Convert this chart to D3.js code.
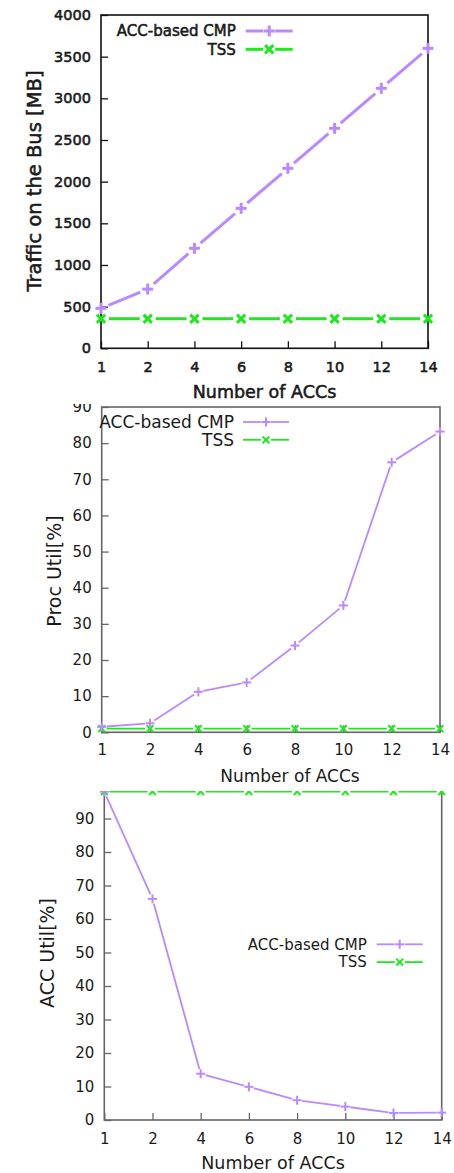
<!DOCTYPE html>
<html>
<head>
<meta charset="utf-8">
<script src="https://cdn.jsdelivr.net/npm/d3@7"></script>
<style>
  body { margin: 0; background: #fff; }
  svg { display: block; font-family: "DejaVu Sans", sans-serif; }
</style>
</head>
<body>
<div id="visual"></div>
<script>
// x categories (number of accelerators)
const accCounts = ["1", "2", "4", "6", "8", "10", "12", "14"];

// traffic on the bus [MB]
const trafficAccCmp = [480, 710, 1200, 1680, 2160, 2640, 3120, 3600];
const trafficTss = [355, 355, 355, 355, 355, 355, 355, 355];
const trafficTicks = [0, 500, 1000, 1500, 2000, 2500, 3000, 3500, 4000];

// processor utilisation [%]
const procAccCmp = [1.5, 2.5, 11.2, 13.8, 24, 35.1, 74.7, 83.2];
const procTss = [1, 1, 1, 1, 1, 1, 1, 1];
const procTicks = [0, 10, 20, 30, 40, 50, 60, 70, 80, 90];

// accelerator utilisation [%]
const accUtilAccCmp = [98, 66, 13.8, 9.9, 5.9, 4, 2.1, 2.2];
const accUtilTss = [98, 98, 98, 98, 98, 98, 98, 98];
const accUtilTicks = [0, 10, 20, 30, 40, 50, 60, 70, 80, 90, 100];

const seriesNames = ["ACC-based CMP", "TSS"];

const purple = "#b98aff",
    green = "#1fe81f";

const W = 454, H = 1173;

const svg = d3.select("#visual")
    .append("svg")
    .attr("width", W)
    .attr("height", H)
    .attr("viewBox", [0, 0, W, H]);

const charts = [
    {
        id: "traffic", acc: trafficAccCmp, tss: trafficTss, ticks: trafficTicks,
        domain: [0, 4000], x0: 101, x1: 428, y0: 348.3, y1: 15, clipTop: 0,
        frame: "#111", heavy: true, lw: 3, gap: 8, mk: 5.5, mw: 3,
        tickSize: 14.5, xLabelY: 367, axisSize: 17.5, xTitleX: 264.5, xTitleY: 392,
        yTitle: "Traffic on the Bus [MB]", yTitleX: 34, yTitleY: 181, yTitleSize: 19.5,
        legX: 235.7, legY: 31, legSize: 15, legX1: 245.7, legX2: 292.7
    },
    {
        id: "proc", acc: procAccCmp, tss: procTss, ticks: procTicks,
        domain: [0, 90], x0: 101.7, x1: 440, y0: 732.3, y1: 407, clipTop: 404,
        frame: "#666", heavy: false, lw: 1.8, gap: 5, mk: 4.5, mw: 2,
        tickSize: 15, xLabelY: 750, axisSize: 17, xTitleX: 290, xTitleY: 776,
        yTitle: "Proc Util[%]", yTitleX: 54, yTitleY: 571, yTitleSize: 19,
        legX: 234, legY: 422, legSize: 17, legX1: 243, legX2: 289
    },
    {
        id: "accutil", acc: accUtilAccCmp, tss: accUtilTss, ticks: accUtilTicks,
        domain: [0, 100], x0: 104.3, x1: 441.7, y0: 1120, y1: 785, clipTop: 791,
        frame: "#666", heavy: false, lw: 1.8, gap: 5, mk: 4.5, mw: 2,
        tickSize: 15, xLabelY: 1138.5, axisSize: 17.5, xTitleX: 273, xTitleY: 1163,
        yTitle: "ACC Util[%]", yTitleX: 47, yTitleY: 953, yTitleSize: 19,
        legX: 366.7, legY: 944.3, legSize: 15, legX1: 376.7, legX2: 422.7
    }
];

charts.forEach(drawChart);

function drawMarker(g, kind, x, y, c) {
    let s = c.mk;
    let m = g.append("g").attr("stroke", kind == "plus" ? purple : green)
        .attr("stroke-width", c.mw).attr("fill", "none");
    if (kind == "plus") {
        m.append("line").attr("x1", x - s).attr("x2", x + s).attr("y1", y).attr("y2", y);
        m.append("line").attr("x1", x).attr("x2", x).attr("y1", y - s).attr("y2", y + s);
    } else {
        let t = s * 0.75;
        m.append("line").attr("x1", x - t).attr("x2", x + t).attr("y1", y - t).attr("y2", y + t);
        m.append("line").attr("x1", x - t).attr("x2", x + t).attr("y1", y + t).attr("y2", y - t);
    }
}

// line broken around every point, gnuplot linespoints style
function drawGappedLine(g, pts, color, c) {
    for (let i = 0; i < pts.length - 1; i++) {
        let [ax, ay] = pts[i], [bx, by] = pts[i + 1];
        let dx = bx - ax, dy = by - ay, len = Math.hypot(dx, dy);
        if (len <= 2 * c.gap) continue;
        let ux = dx / len, uy = dy / len;
        g.append("line")
            .attr("x1", ax + ux * c.gap).attr("y1", ay + uy * c.gap)
            .attr("x2", bx - ux * c.gap).attr("y2", by - uy * c.gap)
            .attr("stroke", color)
            .attr("stroke-width", c.lw);
    }
}

// top chart text looks smeared / semi-bold in the original
function styleText(sel, c, size) {
    sel.attr("font-size", size)
        .attr("font-family", "DejaVu Sans")
        .attr("fill", "#1a1a1a");
    if (c.heavy) sel.attr("stroke", "#1a1a1a").attr("stroke-width", 0.55);
    return sel;
}

function drawChart(c) {
    svg.append("clipPath").attr("id", "clip_" + c.id)
        .append("rect").attr("x", 0).attr("y", c.clipTop).attr("width", W).attr("height", H - c.clipTop);

    const g = svg.append("g").attr("clip-path", `url(#clip_${c.id})`);

    const xScale = d3.scalePoint()
        .domain(accCounts)
        .range([c.x0, c.x1]);

    const yScale = d3.scaleLinear()
        .domain(c.domain)
        .range([c.y0, c.y1]);

    // y axis ticks (inward) and labels
    const yAxis = d3.axisLeft(yScale)
        .tickValues(c.ticks)
        .tickSize(-7)
        .tickPadding(10)
        .tickFormat(d3.format("d"));
    const ya = g.append("g").attr("transform", `translate(${c.x0},0)`).call(yAxis);
    ya.select(".domain").remove();
    ya.selectAll("line").attr("stroke", c.frame).attr("stroke-width", 1.3);
    styleText(ya.selectAll("text"), c, c.tickSize);

    // x axis
    const xAxis = d3.axisBottom(xScale)
        .tickSize(-7)
        .tickPadding(0);
    const xa = g.append("g").attr("transform", `translate(0,${c.y0})`).call(xAxis);
    xa.select(".domain").remove();
    xa.selectAll("line").attr("stroke", c.frame).attr("stroke-width", 1.3);
    styleText(xa.selectAll("text"), c, c.tickSize)
        .attr("y", c.xLabelY - c.y0).attr("dy", "0.35em");

    // frame
    g.append("rect")
        .attr("x", c.x0).attr("y", c.y1)
        .attr("width", c.x1 - c.x0).attr("height", c.y0 - c.y1)
        .attr("fill", "none")
        .attr("stroke", c.frame)
        .attr("stroke-width", 1.6);

    // axis titles
    styleText(g.append("text"), c, c.axisSize)
        .attr("x", c.xTitleX).attr("y", c.xTitleY).attr("dy", "0.35em")
        .attr("text-anchor", "middle")
        .text("Number of ACCs");
    styleText(g.append("text"), c, c.yTitleSize)
        .attr("transform", `translate(${c.yTitleX},${c.yTitleY}) rotate(-90)`)
        .attr("dy", "0.35em")
        .attr("text-anchor", "middle")
        .text(c.yTitle);

    // series
    const tssPts = c.tss.map((v, i) => [xScale(accCounts[i]), yScale(v)]);
    const accPts = c.acc.map((v, i) => [xScale(accCounts[i]), yScale(v)]);
    drawGappedLine(g, tssPts, green, c);
    drawGappedLine(g, accPts, purple, c);
    tssPts.forEach(p => drawMarker(g, "cross", p[0], p[1], c));
    accPts.forEach(p => drawMarker(g, "plus", p[0], p[1], c));

    // legend
    seriesNames.forEach((name, i) => {
        let ly = c.legY + i * (c.id == "traffic" ? 18.3 : 17.8);
        styleText(g.append("text"), c, c.legSize)
            .attr("x", c.legX).attr("y", ly).attr("dy", "0.35em")
            .attr("text-anchor", "end")
            .text(name);
        let color = i == 0 ? purple : green;
        let mid = (c.legX1 + c.legX2) / 2;
        drawGappedLine(g, [[c.legX1, ly], [mid, ly], [c.legX2, ly]], color, {lw: c.lw, gap: 0});
        let gp = Math.min(c.gap, 6);
        g.append("rect").attr("x", mid - gp).attr("y", ly - 4).attr("width", 2 * gp).attr("height", 8).attr("fill", "#fff");
        drawMarker(g, i == 0 ? "plus" : "cross", mid, ly, c);
    });
}
</script>
</body>
</html>
